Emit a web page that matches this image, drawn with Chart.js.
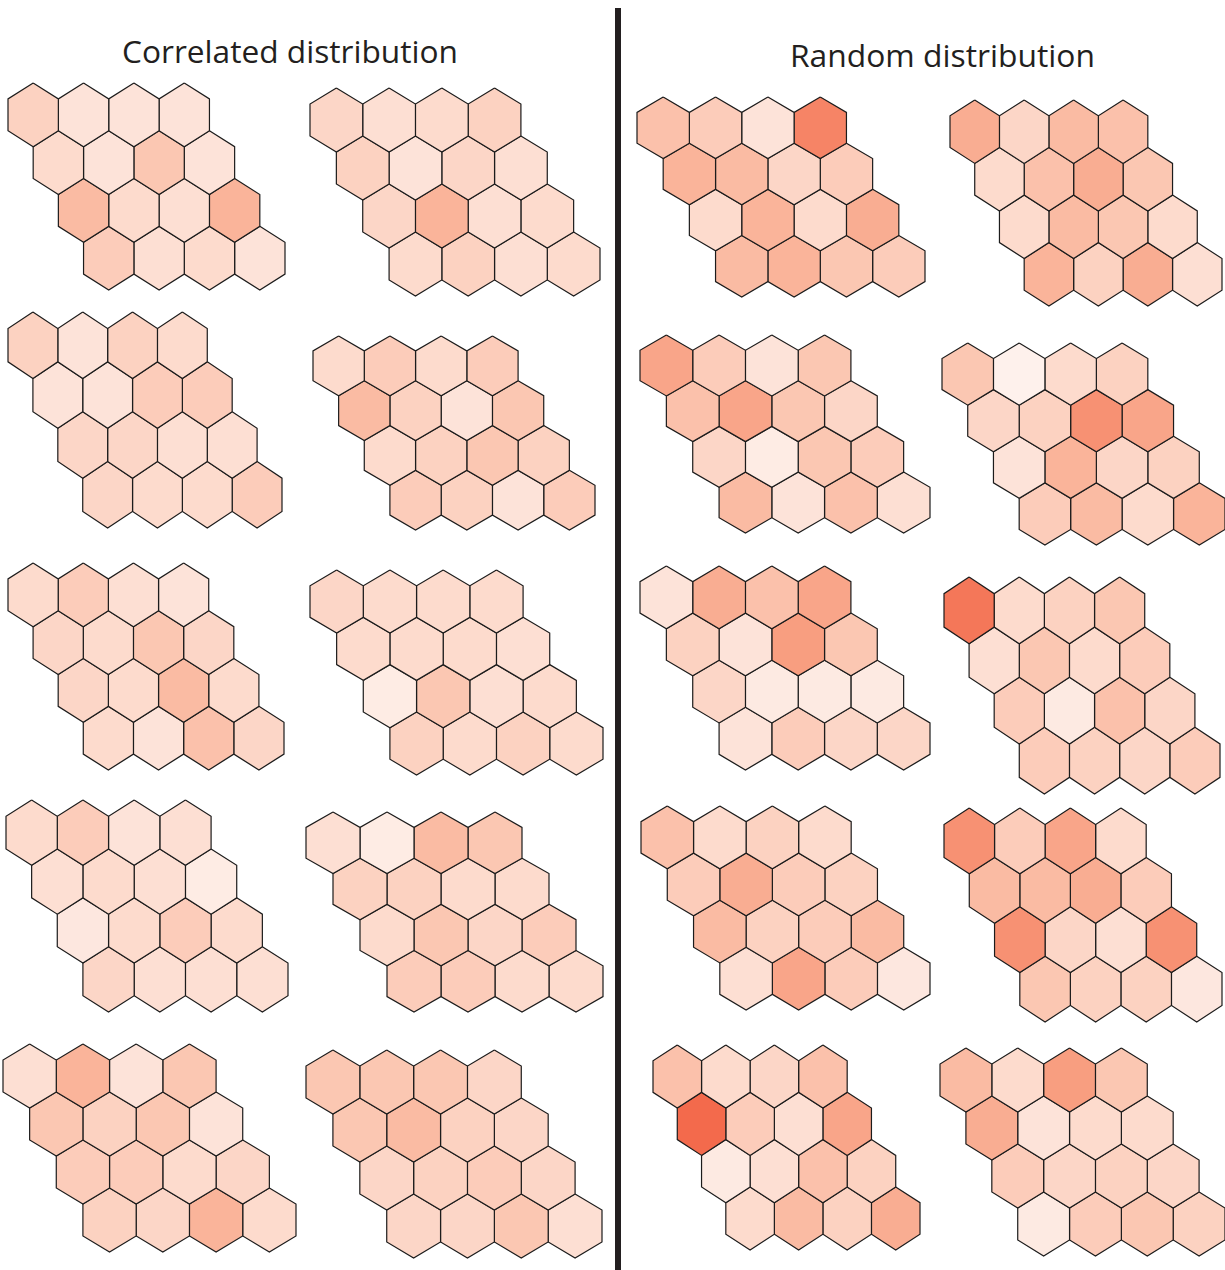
<!DOCTYPE html>
<html>
<head>
<meta charset="utf-8">
<title>Correlated vs random distribution</title>
<script src="https://cdn.jsdelivr.net/npm/chart.js@4/dist/chart.umd.min.js"></script>
<style>
  html, body { margin: 0; padding: 0; background: #ffffff; }
  #page { position: relative; width: 1225px; height: 1270px; overflow: hidden; }
  .title { position: absolute; font-family: "Open Sans", "Noto Sans", sans-serif; font-size: 31px;
           color: #231f20; white-space: nowrap; transform-origin: 0 0; line-height: 1; }
  .divider { position: absolute; left: 615px; top: 8px; width: 6px; height: 1262px; background: #231f20; }
  canvas { position: absolute; }
</style>
</head>
<body>
<div id="page">
  <div class="title" id="titleLeft">Correlated distribution</div>
  <div class="title" id="titleRight">Random distribution</div>
  <div class="divider"></div>
</div>
<script>
// Cell intensity per patch, row-major: 4 rows of 4 cells (0 = palest, 1 = deepest)
const corr1  = [0.40,0.20,0.20,0.20, 0.30,0.20,0.50,0.20, 0.60,0.30,0.25,0.65, 0.45,0.25,0.30,0.20];
const corr2  = [0.35,0.25,0.30,0.40, 0.40,0.20,0.35,0.25, 0.35,0.65,0.25,0.30, 0.30,0.40,0.25,0.30];
const corr3  = [0.40,0.20,0.40,0.30, 0.20,0.20,0.45,0.45, 0.35,0.35,0.25,0.25, 0.35,0.30,0.30,0.45];
const corr4  = [0.30,0.45,0.30,0.45, 0.60,0.40,0.20,0.50, 0.30,0.40,0.50,0.40, 0.45,0.40,0.20,0.45];
const corr5  = [0.30,0.45,0.25,0.20, 0.35,0.30,0.50,0.35, 0.35,0.30,0.60,0.30, 0.30,0.20,0.55,0.35];
const corr6  = [0.35,0.30,0.30,0.30, 0.30,0.30,0.30,0.25, 0.10,0.50,0.25,0.30, 0.40,0.30,0.40,0.30];
const corr7  = [0.30,0.45,0.20,0.25, 0.25,0.30,0.25,0.10, 0.15,0.30,0.45,0.30, 0.35,0.25,0.25,0.25];
const corr8  = [0.25,0.10,0.60,0.50, 0.40,0.40,0.30,0.30, 0.30,0.50,0.35,0.45, 0.45,0.45,0.30,0.30];
const corr9  = [0.25,0.65,0.20,0.50, 0.50,0.40,0.50,0.20, 0.45,0.45,0.30,0.35, 0.40,0.35,0.65,0.30];
const corr10 = [0.50,0.50,0.50,0.35, 0.50,0.60,0.40,0.35, 0.35,0.40,0.45,0.35, 0.35,0.35,0.50,0.25];

const rand1  = [0.55,0.45,0.20,0.90, 0.65,0.60,0.35,0.45, 0.30,0.65,0.30,0.70, 0.60,0.65,0.50,0.45];
const rand2  = [0.70,0.35,0.60,0.55, 0.30,0.55,0.70,0.50, 0.30,0.60,0.50,0.30, 0.65,0.40,0.70,0.25];
const rand3  = [0.75,0.45,0.20,0.50, 0.55,0.75,0.50,0.35, 0.35,0.10,0.50,0.45, 0.60,0.20,0.55,0.25];
const rand4  = [0.50,0.03,0.30,0.40, 0.35,0.40,0.85,0.75, 0.20,0.65,0.35,0.40, 0.45,0.60,0.30,0.65];
const rand5  = [0.20,0.70,0.55,0.75, 0.40,0.20,0.80,0.50, 0.35,0.12,0.12,0.12, 0.20,0.45,0.35,0.35];
const rand6  = [0.95,0.30,0.40,0.50, 0.25,0.50,0.30,0.45, 0.45,0.12,0.55,0.35, 0.45,0.40,0.35,0.45];
const rand7  = [0.55,0.30,0.40,0.30, 0.45,0.70,0.45,0.40, 0.60,0.40,0.45,0.60, 0.25,0.75,0.45,0.15];
const rand8  = [0.85,0.45,0.75,0.30, 0.60,0.60,0.70,0.45, 0.85,0.35,0.25,0.85, 0.50,0.40,0.40,0.15];
const rand9  = [0.55,0.30,0.35,0.55, 1.00,0.45,0.25,0.75, 0.12,0.25,0.55,0.40, 0.30,0.60,0.40,0.70];
const rand10 = [0.60,0.30,0.80,0.50, 0.70,0.20,0.30,0.30, 0.45,0.35,0.40,0.35, 0.12,0.45,0.50,0.40];

// Patch order: two columns per panel, five rows
const correlatedPatches = [corr1, corr2, corr3, corr4, corr5, corr6, corr7, corr8, corr9, corr10];
const randomPatches = [rand1, rand2, rand3, rand4, rand5, rand6, rand7, rand8, rand9, rand10];

const ROWS = 4, COLS = 4;

// Page placement of each patch: [left, top, width, height] in px
const correlatedBoxes = [
  [8, 83, 277, 207], [310, 88, 290, 208],
  [8, 312, 274, 216], [313, 336, 282, 194],
  [8, 563, 276, 207], [310, 570, 293, 205],
  [6, 800, 282, 212], [306, 812, 297, 200],
  [3, 1044, 293, 208], [306, 1050, 296, 208]
];
const randomBoxes = [
  [637, 97, 288, 200], [950, 100, 272, 206],
  [640, 335, 290, 198], [942, 343, 283, 202],
  [640, 566, 290, 204], [944, 577, 276, 217],
  [641, 806, 289, 204], [944, 808, 278, 214],
  [653, 1045, 267, 205], [940, 1048, 285, 208]
];

// Colour ramp for cell intensity
const rampStops = [
  [0.0, [254, 244, 239]],
  [0.2, [253, 227, 217]],
  [0.4, [252, 210, 193]],
  [0.6, [250, 187, 163]],
  [0.8, [248, 158, 128]],
  [1.0, [243, 106, 76]]
];
function rampColor(t) {
  t = Math.max(0, Math.min(1, t));
  for (let i = 1; i < rampStops.length; i++) {
    const [t1, c1] = rampStops[i];
    const [t0, c0] = rampStops[i - 1];
    if (t <= t1) {
      const f = (t - t0) / (t1 - t0);
      const c = c0.map((v, k) => Math.round(v + (c1[k] - v) * f));
      return `rgb(${c[0]},${c[1]},${c[2]})`;
    }
  }
  const c = rampStops[rampStops.length - 1][1];
  return `rgb(${c[0]},${c[1]},${c[2]})`;
}

// Pointy-top hexagon outline around lattice cell (r, c); x in cell widths, y in cell heights
function hexOutline(r, c) {
  const cx = c + 0.5 * r, cy = 0.75 * r;
  const pts = [
    [cx, cy - 0.5], [cx + 0.5, cy - 0.25], [cx + 0.5, cy + 0.25],
    [cx, cy + 0.5], [cx - 0.5, cy + 0.25], [cx - 0.5, cy - 0.25], [cx, cy - 0.5]
  ];
  return pts.map(([x, y]) => ({x, y}));
}

const PAD = 3;
const page = document.getElementById('page');

function drawPatch(values, box) {
  const [left, top, w, h] = box;
  const canvas = document.createElement('canvas');
  canvas.width = w + 2 * PAD;
  canvas.height = h + 2 * PAD;
  canvas.style.left = (left - PAD) + 'px';
  canvas.style.top = (top - PAD) + 'px';
  page.appendChild(canvas);

  const datasets = [];
  for (let r = 0; r < ROWS; r++) {
    for (let c = 0; c < COLS; c++) {
      datasets.push({
        data: hexOutline(r, c),
        showLine: true,
        fill: 'shape',
        backgroundColor: rampColor(values[r * COLS + c]),
        borderColor: '#1c1c1c',
        borderWidth: 1.2,
        borderJoinStyle: 'miter',
        pointRadius: 0,
        pointHoverRadius: 0,
        tension: 0,
        clip: false
      });
    }
  }

  new Chart(canvas, {
    type: 'scatter',
    data: { datasets },
    options: {
      responsive: false,
      animation: false,
      events: [],
      layout: { padding: PAD },
      plugins: { legend: { display: false }, tooltip: { enabled: false }, title: { display: false } },
      scales: {
        x: { type: 'linear', display: false, min: -0.5, max: (COLS - 1) + 0.5 * (ROWS - 1) + 0.5 },
        y: { type: 'linear', display: false, min: -0.5, max: 0.75 * (ROWS - 1) + 0.5, reverse: true }
      }
    }
  });
}

correlatedPatches.forEach((vals, i) => drawPatch(vals, correlatedBoxes[i]));
randomPatches.forEach((vals, i) => drawPatch(vals, randomBoxes[i]));

// Panel headings, fitted to their spans
function placeTitle(id, left, right, capTop) {
  const el = document.getElementById(id);
  const natural = el.getBoundingClientRect().width;
  const sx = (right - left) / natural;
  el.style.left = left + 'px';
  el.style.top = capTop + 'px';
  el.style.transform = `scaleX(${sx})`;
}
placeTitle('titleLeft', 122, 458, 36);
placeTitle('titleRight', 790, 1095, 40);
</script>
</body>
</html>
